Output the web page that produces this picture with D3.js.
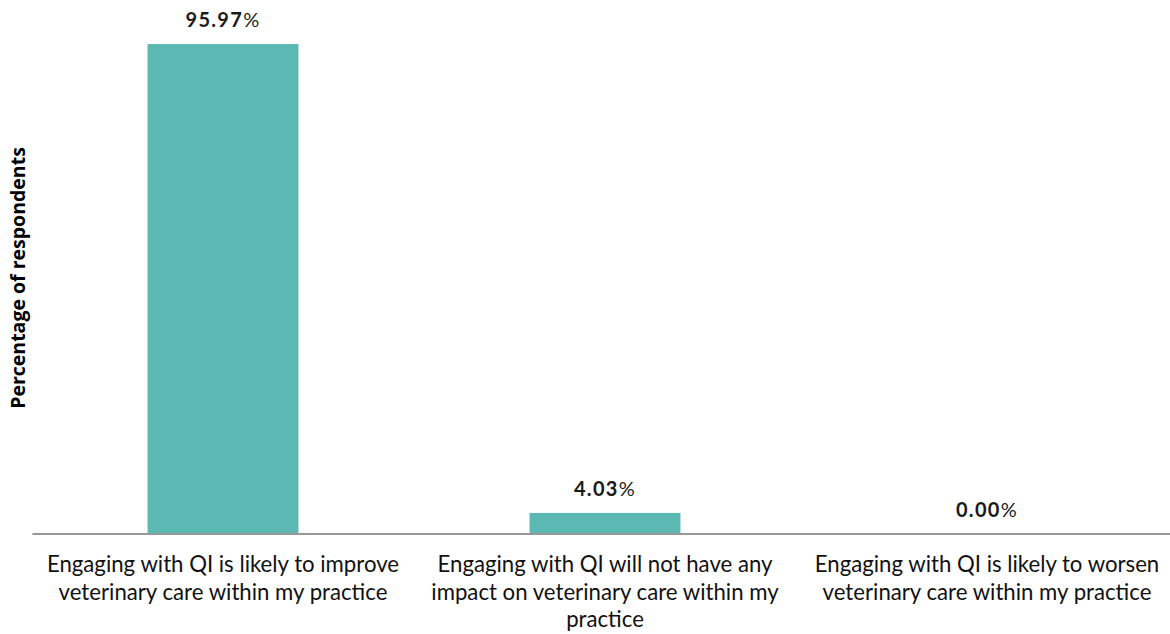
<!DOCTYPE html>
<html><head><meta charset="utf-8">
<script src="https://cdn.jsdelivr.net/npm/d3@7"></script>
<style>body{margin:0;background:#fff}</style>
</head><body>
<svg id="c" width="1170" height="634"></svg>
<script>
const categories = [
  ["Engaging with QI is likely to improve", "veterinary care within my practice"],
  ["Engaging with QI will not have any", "impact on veterinary care within my", "practice"],
  ["Engaging with QI is likely to worsen", "veterinary care within my practice"]
];
const values = [95.97, 4.03, 0.00];
const valueLabels = ["95.97", "4.03", "0.00"];

const svg = d3.select("#c");
const plotLeft = 32, plotRight = 1178, plotTop = 23.5, plotBottom = 533.5;
const keys = categories.map((c, i) => i);
const x = d3.scaleBand().domain(keys).range([plotLeft, plotRight]).padding(0);
const y = d3.scaleLinear().domain([0, 100]).range([plotBottom, plotTop]);
const bw = x.bandwidth() * 0.395;

svg.selectAll("rect.bar").data(values).join("rect")
  .attr("class", "bar")
  .attr("x", (d, i) => x(i) + (x.bandwidth() - bw) / 2)
  .attr("width", bw)
  .attr("y", d => y(d))
  .attr("height", d => y(0) - y(d))
  .attr("fill", "#5bb8b3");

const vl = svg.selectAll("text.val").data(values).join("text")
  .attr("class", "val")
  .attr("x", (d, i) => x(i) + x.bandwidth() / 2)
  .attr("y", d => y(d) - 17)
  .attr("text-anchor", "middle")
  .style("font-family", "Lato, sans-serif")
  .style("font-size", "20px")
  .style("letter-spacing", "1.3px")
  .style("fill", "#1a1a1a");
vl.append("tspan").style("font-weight", "bold").text((d, i) => valueLabels[i]);
vl.append("tspan").style("font-weight", "normal").text("%");

// x axis
const xAxis = d3.axisBottom(x).tickSize(0).tickFormat("");
const gx = svg.append("g").attr("transform", `translate(0,${plotBottom})`).call(xAxis);
gx.select(".domain").attr("stroke", "#999").attr("stroke-width", 2);

const cl = svg.selectAll("text.cat").data(categories).join("text")
  .attr("class", "cat")
  .attr("text-anchor", "middle")
  .style("font-family", "Lato, sans-serif")
  .style("font-size", "22.2px")
  .style("fill", "#111");
cl.each(function(lines, i) {
  d3.select(this).selectAll("tspan").data(lines).join("tspan")
    .attr("x", x(i) + x.bandwidth() / 2)
    .attr("y", (l, j) => 572 + j * 27.5)
    .text(l => l);
});

svg.append("text")
  .attr("transform", `translate(25,278) rotate(-90)`)
  .attr("text-anchor", "middle")
  .style("font-family", "'Open Sans', sans-serif")
  .style("font-weight", "bold")
  .style("font-size", "19.5px")
  .style("fill", "#000")
  .text("Percentage of respondents");
</script>
</body></html>
